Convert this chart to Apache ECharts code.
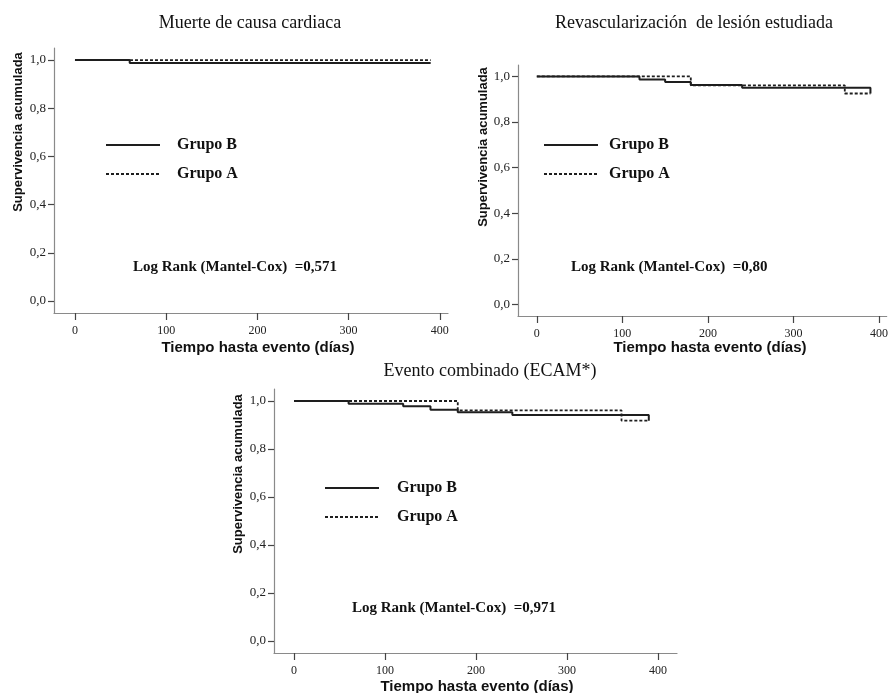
<!DOCTYPE html>
<html>
<head>
<meta charset="utf-8">
<script src="https://cdn.jsdelivr.net/npm/echarts@6/dist/echarts.min.js"></script>
<style>
  html, body { margin: 0; padding: 0; background: #ffffff; }
  #chart { width: 891px; height: 693px; }
</style>
</head>
<body>
<div id="chart"></div>
<script>
// ---- data ----
const timeTicks = [0, 100, 200, 300, 400];
const survTicks = [0, 0.2, 0.4, 0.6, 0.8, 1.0];
const survTickLabels = ['0,0', '0,2', '0,4', '0,6', '0,8', '1,0'];

const titles = ['Muerte de causa cardiaca', 'Revascularización  de lesión estudiada', 'Evento combinado (ECAM*)'];
const logRankTexts = ['Log Rank (Mantel-Cox)  =0,571', 'Log Rank (Mantel-Cox)  =0,80', 'Log Rank (Mantel-Cox)  =0,971'];
const yAxisName = 'Supervivencia acumulada';
const xAxisName = 'Tiempo hasta evento (días)';
const groupNames = ['Grupo B', 'Grupo A'];

// Panel 1: Muerte de causa cardiaca
const p1TimesB = [0, 60, 390];
const p1SurvB  = [1.0, 0.988, 0.988];
const p1TimesA = [0, 390];
const p1SurvA  = [1.0, 1.0];

// Panel 2: Revascularización de lesión estudiada
const p2TimesB = [0, 120, 150, 180, 240, 390];
const p2SurvB  = [1.0, 0.987, 0.975, 0.962, 0.950, 0.925];
const p2TimesA = [0, 180, 360, 390];
const p2SurvA  = [1.0, 0.961, 0.925, 0.925];

// Panel 3: Evento combinado (ECAM*)
const p3TimesB = [0, 60, 120, 150, 180, 240, 390];
const p3SurvB  = [1.0, 0.989, 0.978, 0.964, 0.953, 0.942, 0.918];
const p3TimesA = [0, 180, 360, 390];
const p3SurvA  = [1.0, 0.961, 0.918, 0.918];

// ---- layout / style ----
const zip = (t, s) => t.map((v, i) => [v, s[i]]);
const serif = '"Liberation Serif", "DejaVu Serif", serif';
const sans = '"Liberation Sans", Arial, sans-serif';
const axisGrey = '#8a8a8a';
const lineColor = '#1e1e1e';

const grids = [
  { left: 54,  top: 48,  width: 394, height: 265 },
  { left: 518, top: 65,  width: 373, height: 251 },
  { left: 274, top: 389, width: 403, height: 264 }
];
const xRanges = [[-23, 409], [-22, 409], [-22, 421]];

function xAxisFor(i) {
  return {
    type: 'value', gridIndex: i, min: xRanges[i][0], max: xRanges[i][1],
    splitLine: { show: false },
    axisLine: { show: true, onZero: false, lineStyle: { color: axisGrey, width: 1.2 } },
    axisTick: { show: true, length: 7, customValues: timeTicks, lineStyle: { color: '#444', width: 1.2 } },
    axisLabel: { customValues: timeTicks, margin: 12, fontFamily: serif, fontSize: 12, color: '#222',
                 formatter: v => String(v) }
  };
}
function yAxisFor(i) {
  return {
    type: 'value', gridIndex: i, min: -0.05, max: 1.05,
    splitLine: { show: false },
    axisLine: { show: true, onZero: false, lineStyle: { color: axisGrey, width: 1.2 } },
    axisTick: { show: true, length: 6, customValues: survTicks, lineStyle: { color: '#444', width: 1.2 } },
    axisLabel: { customValues: survTicks, margin: 8, fontFamily: serif, fontSize: 13, color: '#222',
                 formatter: v => { const k = survTicks.findIndex(t => Math.abs(t - v) < 1e-6); return k >= 0 ? survTickLabels[k] : ''; } }
  };
}
function kmSeries(i, name, times, surv, dashed) {
  return {
    type: 'line', name: name, xAxisIndex: i, yAxisIndex: i, step: 'end',
    symbol: 'none', silent: true, animation: false,
    z: dashed ? 2 : 3,
    color: lineColor,
    itemStyle: { color: lineColor },
    data: zip(times, surv),
    lineStyle: { color: lineColor, width: dashed ? 1.8 : 2, type: dashed ? [3, 2] : 'solid' }
  };
}

const legendPos = [
  { left: 105, top: 137, pad: 12 },
  { left: 543, top: 137, pad: 6 },
  { left: 324, top: 480, pad: 13 }
];
const legends = legendPos.map(p => ({
  data: groupNames, orient: 'vertical', left: p.left, top: p.top, padding: 0,
  itemWidth: 54, itemHeight: 14, itemGap: 13, selectedMode: false,
  itemStyle: { opacity: 0 },
  textStyle: { fontFamily: serif, fontWeight: 'bold', fontSize: 16, color: '#111', padding: [0, 0, 0, p.pad] }
}));

const titleCenters = [[250, 23], [694, 23], [490, 371]];
const logRankPos = [[133, 267], [571, 267], [352, 608]];
const yNamePos = [[18, 132], [483, 147], [238, 474]];
const xNamePos = [[258, 348], [710, 348], [477, 687]];

const graphics = [];
titles.forEach((t, i) => graphics.push({
  type: 'text', x: titleCenters[i][0], y: titleCenters[i][1],
  style: { text: t, fontFamily: serif, fontSize: 18, fill: '#111', align: 'center', verticalAlign: 'middle' }
}));
logRankTexts.forEach((t, i) => graphics.push({
  type: 'text', x: logRankPos[i][0], y: logRankPos[i][1],
  style: { text: t, fontFamily: serif, fontWeight: 'bold', fontSize: 15, fill: '#111', align: 'left', verticalAlign: 'middle' }
}));
yNamePos.forEach(p => graphics.push({
  type: 'text', x: p[0], y: p[1], rotation: Math.PI / 2,
  style: { text: yAxisName, fontFamily: sans, fontWeight: 'bold', fontSize: 13, fill: '#111', align: 'center', verticalAlign: 'middle' }
}));
xNamePos.forEach(p => graphics.push({
  type: 'text', x: p[0], y: p[1],
  style: { text: xAxisName, fontFamily: sans, fontWeight: 'bold', fontSize: 15, fill: '#111', align: 'center', verticalAlign: 'middle' }
}));

const option = {
  backgroundColor: '#ffffff',
  animation: false,
  color: [lineColor],
  grid: grids,
  xAxis: [0, 1, 2].map(xAxisFor),
  yAxis: [0, 1, 2].map(yAxisFor),
  legend: legends,
  series: [
    kmSeries(0, groupNames[1], p1TimesA, p1SurvA, true),
    kmSeries(0, groupNames[0], p1TimesB, p1SurvB, false),
    kmSeries(1, groupNames[1], p2TimesA, p2SurvA, true),
    kmSeries(1, groupNames[0], p2TimesB, p2SurvB, false),
    kmSeries(2, groupNames[1], p3TimesA, p3SurvA, true),
    kmSeries(2, groupNames[0], p3TimesB, p3SurvB, false)
  ],
  graphic: graphics
};

const chart = echarts.init(document.getElementById('chart'), null, { renderer: 'canvas' });
chart.setOption(option);
</script>
</body>
</html>
